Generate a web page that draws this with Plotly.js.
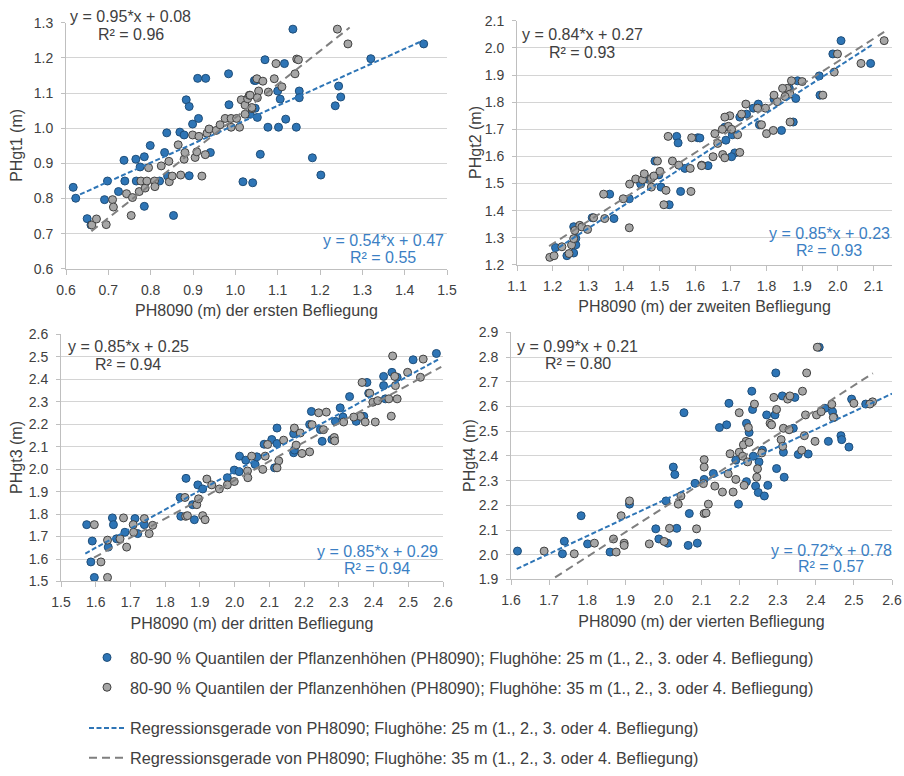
<!DOCTYPE html>
<html>
<head>
<meta charset="utf-8">
<script src="https://cdn.plot.ly/plotly-3.0.1.min.js"></script>
<style>html,body{margin:0;padding:0;background:#fff;}#chart{width:904px;height:776px;}</style>
</head>
<body>
<div id="chart"></div>
<script>
// ---------- Data ----------
// Panel 1: erste Befliegung
const p1x25 = [0.617,0.623,0.650,0.659,0.691,0.698,0.724,0.737,0.739,0.765,0.766,0.775,0.785,0.785,0.799,0.821,0.833,0.838,0.840,0.854,0.869,0.879,0.884,0.891,0.891,0.899,0.911,0.930,0.913,0.941,0.984,0.985,1.018,1.041,1.045,
  1.136,1.070,1.116,1.048,1.100,1.106,1.151,1.151,1.047,1.035,1.052,1.077,1.102,1.119,1.144,1.059,1.182,1.202,1.236,1.244,1.249,1.320,1.445];
const p1y25 = [0.832,0.801,0.743,0.725,0.797,0.850,0.820,0.909,0.850,0.912,0.850,0.890,0.778,0.919,0.951,0.850,0.931,0.987,0.864,0.752,0.989,0.981,1.081,1.062,0.865,1.012,1.142,1.142,1.028,0.931,1.155,1.067,0.848,0.845,1.136,
  1.282,1.195,1.184,1.136,1.106,1.083,1.106,1.087,1.057,1.040,1.031,1.003,1.003,1.026,1.003,0.926,0.916,0.867,1.064,1.120,1.089,1.198,1.240];
const p1x35 = [0.661,0.672,0.695,0.710,0.712,0.743,0.757,0.754,0.773,0.787,0.795,0.777,0.791,0.809,0.810,0.825,0.843,0.844,0.851,0.865,0.871,0.879,0.881,0.899,0.905,0.909,0.914,0.921,0.929,0.933,0.938,0.955,0.964,0.976,0.990,0.990,1.003,1.010,1.014,1.023,1.029,1.033,1.023,1.039,
  1.241,1.266,1.145,1.149,1.096,1.141,1.051,1.065,1.092,1.110,1.055,1.078,1.035,1.052,1.039];
const p1y35 = [0.725,0.742,0.726,0.797,0.776,0.814,0.803,0.752,0.820,0.830,0.888,0.850,0.850,0.850,0.834,0.893,0.906,0.848,0.864,0.953,0.867,0.912,0.931,0.981,0.917,0.933,0.977,0.864,0.925,0.986,0.998,0.994,1.010,1.028,1.028,1.003,1.028,1.003,1.081,1.066,1.084,1.094,1.040,1.056,
  1.282,1.240,1.197,1.195,1.184,1.155,1.141,1.134,1.141,1.118,1.106,1.103,1.094,1.087,1.059];

// Panel 2: zweite Befliegung
const p2x25 = [1.208,1.240,1.259,1.265,1.265,1.259,1.311,1.360,1.372,1.415,1.447,1.468,1.487,1.498,1.504,1.527,1.548,1.552,1.559,1.571,1.607,
  2.009,2.092,1.986,1.950,1.948,1.887,1.864,1.882,1.875,1.842,1.821,1.777,1.763,1.780,1.744,1.725,1.683,1.686,1.704,1.711,1.702,1.636,1.613];
const p2y25 = [1.264,1.234,1.244,1.274,1.298,1.341,1.374,1.461,1.371,1.444,1.498,1.516,1.583,1.532,1.487,1.422,1.674,1.650,1.471,1.556,1.669,
  2.027,1.943,1.978,1.826,1.897,1.879,1.851,1.814,1.727,1.696,1.812,1.793,1.778,1.717,1.756,1.745,1.708,1.660,1.680,1.613,1.599,1.566,1.668];
const p2x35 = [1.192,1.204,1.226,1.246,1.253,1.259,1.262,1.276,1.282,1.298,1.315,1.343,1.346,1.398,1.415,1.416,1.433,1.452,1.457,1.477,1.477,1.484,1.494,1.501,1.512,1.518,1.524,1.536,1.554,1.586,1.588,1.590,1.618,
  2.130,2.065,1.999,1.990,1.958,1.900,1.870,1.866,1.858,1.845,1.866,1.852,1.830,1.821,1.797,1.800,1.819,1.786,1.775,1.742,1.730,1.697,1.683,1.693,1.676,1.655,1.663,1.702,1.719,1.725,1.677,1.683,1.650,1.618];
const p2y35 = [1.228,1.234,1.267,1.242,1.274,1.297,1.327,1.346,1.340,1.331,1.374,1.461,1.371,1.444,1.337,1.498,1.517,1.514,1.536,1.519,1.487,1.528,1.583,1.545,1.422,1.475,1.674,1.583,1.568,1.556,1.471,1.669,1.568,
  2.027,1.943,1.978,1.911,1.826,1.876,1.879,1.727,1.851,1.851,1.830,1.821,1.802,1.826,1.778,1.684,1.696,1.717,1.778,1.793,1.756,1.750,1.745,1.711,1.700,1.684,1.648,1.700,1.680,1.615,1.607,1.595,1.599,1.566];

// Panel 3: dritte Befliegung
const p3x25 = [1.574,1.590,1.586,1.596,1.636,1.648,1.651,1.684,1.713,1.721,1.740,1.660,1.843,1.860,1.845,1.884,1.879,1.894,1.908,1.979,1.999,2.014,2.032,2.013,2.059,
  2.581,2.514,2.453,2.468,2.429,2.429,2.381,2.386,2.434,2.331,2.304,2.312,2.290,2.350,2.372,2.221,2.247,2.252,2.216,2.170,2.170,2.172,2.122,2.085,2.107,2.122,2.115,2.064,2.280];
const p3y25 = [1.753,1.680,1.587,1.518,1.653,1.783,1.753,1.719,1.780,1.713,1.753,1.690,1.874,1.959,1.790,1.775,1.842,1.930,1.912,1.962,1.996,2.058,2.040,1.989,2.021,
  2.515,2.487,2.431,2.409,2.413,2.372,2.386,2.338,2.313,2.323,2.273,2.232,2.213,2.213,2.235,2.257,2.176,2.124,2.199,2.158,2.073,2.085,2.183,2.111,2.132,2.114,2.006,2.055,2.132];
const p3x35 = [1.596,1.615,1.634,1.634,1.670,1.689,1.680,1.708,1.709,1.740,1.754,1.764,1.857,1.859,1.864,1.891,1.896,1.908,1.915,1.920,1.934,1.956,1.979,1.999,2.037,2.038,2.049,
  2.455,2.543,2.498,2.535,2.461,2.463,2.444,2.468,2.367,2.389,2.398,2.412,2.451,2.362,2.343,2.314,2.376,2.405,2.242,2.264,2.223,2.256,2.287,2.288,2.172,2.189,2.177,2.194,2.216,2.141,2.095,2.127,2.122,2.088,2.081];
const p3y35 = [1.753,1.587,1.518,1.684,1.690,1.653,1.783,1.753,1.719,1.780,1.713,1.750,1.874,1.790,1.793,1.842,1.868,1.793,1.775,1.956,1.930,1.912,1.930,1.945,1.992,1.962,2.058,
  2.504,2.490,2.431,2.409,2.413,2.372,2.313,2.313,2.386,2.338,2.298,2.305,2.236,2.235,2.232,2.210,2.210,2.210,2.251,2.254,2.198,2.176,2.141,2.126,2.183,2.161,2.107,2.070,2.077,2.129,2.110,2.037,2.006,2.058,1.999];

// Panel 4: vierte Befliegung
const p4x25 = [1.617,1.735,1.740,1.784,1.801,1.860,1.911,1.980,1.988,2.011,2.007,2.026,2.030,2.035,2.054,2.065,2.068,2.083,2.089,2.107,
  2.409,2.295,2.232,2.172,2.234,2.147,2.166,2.218,2.225,2.271,2.293,2.312,2.345,2.341,2.315,2.297,2.317,2.260,2.251,2.236,2.190,2.218,2.242,2.249,2.265,2.274,2.197,2.131,2.354,2.380,2.433,2.444,2.448,2.466,2.468,2.487,2.494,2.531,2.424];
const p4y25 = [2.015,2.004,2.055,2.158,2.044,2.011,2.205,2.105,2.064,2.047,2.218,2.355,2.325,2.107,2.575,2.038,2.167,2.289,2.047,2.305,
  2.840,2.736,2.662,2.613,2.588,2.515,2.526,2.532,2.495,2.566,2.566,2.643,2.637,2.512,2.415,2.349,2.314,2.423,2.376,2.399,2.383,2.296,2.278,2.252,2.238,2.281,2.205,2.329,2.406,2.408,2.459,2.579,2.556,2.482,2.466,2.436,2.630,2.610,2.593];
const p4x35 = [1.687,1.766,1.819,1.869,1.876,1.889,1.897,1.897,1.911,1.963,2.002,2.016,2.039,2.046,2.087,2.107,2.107,2.107,2.105,
  2.404,2.376,2.365,2.290,2.326,2.332,2.297,2.239,2.199,2.223,2.280,2.284,2.315,2.330,2.373,2.402,2.414,2.442,2.446,2.500,2.549,2.542,2.370,2.398,2.309,2.313,2.363,2.217,2.210,2.225,2.199,2.175,2.208,2.221,2.247,2.245,2.258,2.190,2.212,2.135,2.155,2.183,2.170,2.118,2.112];
const p4y35 = [2.015,2.004,2.047,2.064,2.011,2.158,2.047,2.038,2.218,2.044,2.054,2.107,2.205,2.238,2.105,2.167,2.385,2.355,2.288,
  2.840,2.736,2.662,2.637,2.630,2.643,2.588,2.610,2.575,2.515,2.532,2.526,2.512,2.506,2.566,2.566,2.579,2.609,2.556,2.613,2.619,2.610,2.482,2.459,2.466,2.439,2.423,2.459,2.445,2.455,2.415,2.409,2.399,2.376,2.348,2.314,2.412,2.305,2.281,2.278,2.254,2.254,2.328,2.205,2.169];

// Regression lines: [slope, intercept] and x extent of each line
const reg25 = [[0.54,0.47],[0.85,0.23],[0.85,0.29],[0.72,0.78]];
const reg35 = [[0.95,0.08],[0.84,0.27],[0.85,0.25],[0.99,0.21]];
const r2_25 = [0.55,0.93,0.94,0.57];
const r2_35 = [0.96,0.93,0.94,0.80];
const line25X = [[0.617,1.445],[1.20,2.10],[1.570,2.588],[1.615,2.60]];
const line35X = [[0.660,1.270],[1.190,2.130],[1.595,2.595],[1.687,2.550]];

// Axis texts and ranges
const xTitles = ['PH8090 (m) der ersten Befliegung','PH8090 (m) der zweiten Befliegung','PH8090 (m) der dritten Befliegung','PH8090 (m) der vierten Befliegung'];
const yTitles = ['PHgt1 (m)','PHgt2 (m)','PHgt3 (m)','PHgt4 (m)'];
const xRanges = [[0.6,1.5],[1.1,2.152],[1.5,2.6],[1.6,2.6]];
const yRanges = [[0.6,1.3],[1.2,2.1],[1.5,2.6],[1.9,2.9]];
const legendNames = [
  '80-90 % Quantilen der Pflanzenhöhen (PH8090); Flughöhe: 25 m (1., 2., 3. oder 4. Befliegung)',
  '80-90 % Quantilen der Pflanzenhöhen (PH8090); Flughöhe: 35 m (1., 2., 3. oder 4. Befliegung)',
  'Regressionsgerade von PH8090; Flughöhe: 25 m (1., 2., 3. oder 4. Befliegung)',
  'Regressionsgerade von PH8090; Flughöhe: 35 m (1., 2., 3. oder 4. Befliegung)'
];

// ---------- Styling / layout ----------
const W = 904, H = 776;
const FONT = 'Liberation Sans, Arial, sans-serif';
const TXT = '#404040';
const BLUE = '#2e75b6', BLUE_EDGE = '#1f4e79';
const GREY = '#a6a6a6', GREY_EDGE = '#404040';
const BLUE_TXT = '#3b7fc4', GREY_LINE = '#7f7f7f';
const AXC = '#bfbfbf', GRIDC = '#d4d4d4';

// plot areas in pixels [left, right, top, bottom]
const boxes = [[66,447,23,271],[517,892,21,267],[61,443,337,586],[511,892,335,584]];
// y-title centre x (pixels)
const yTitleX = [17, 476, 17, 470];

const allX25 = [p1x25,p2x25,p3x25,p4x25], allY25 = [p1y25,p2y25,p3y25,p4y25];
const allX35 = [p1x35,p2x35,p3x35,p4x35], allY35 = [p1y35,p2y35,p3y35,p4y35];

const traces = [];
const layout = {
  width: W, height: H,
  margin: {l:0,r:0,t:0,b:0},
  paper_bgcolor: '#fff', plot_bgcolor: '#fff',
  font: {family: FONT, color: TXT, size: 14},
  showlegend: true,
  annotations: []
};

for (let i = 0; i < 4; i++) {
  const s = i === 0 ? '' : String(i+1);
  const xa = 'x'+s, ya = 'y'+s;
  const b = boxes[i];
  layout['xaxis'+s] = {
    domain: [b[0]/W, b[1]/W], range: xRanges[i], anchor: ya,
    tick0: xRanges[i][0], dtick: 0.1, tickformat: '.1f',
    showgrid: false, zeroline: false, showline: true, linecolor: AXC, linewidth: 1,
    ticks: 'outside', ticklen: 5, tickcolor: AXC, ticklabelstandoff: 3,
    tickfont: {family: FONT, size: 14, color: TXT},
    title: {text: xTitles[i], font: {family: FONT, size: 16, color: TXT}, standoff: 8},
    fixedrange: true
  };
  layout['yaxis'+s] = {
    domain: [1-b[3]/H, 1-b[2]/H], range: yRanges[i], anchor: xa,
    tick0: yRanges[i][0], dtick: 0.1, tickformat: '.1f',
    showgrid: true, gridcolor: GRIDC, gridwidth: 1, zeroline: false,
    showline: true, linecolor: AXC, linewidth: 1,
    ticks: 'outside', ticklen: 4, tickcolor: AXC, ticklabelstandoff: 5,
    tickfont: {family: FONT, size: 14, color: TXT},
    fixedrange: true
  };
  // y-axis title placed beside the tick labels
  layout.annotations.push({
    text: yTitles[i], xref: 'paper', yref: 'paper',
    x: yTitleX[i]/W, y: 1-((b[2]+b[3])/2)/H, xanchor: 'center', yanchor: 'middle',
    textangle: -90, showarrow: false, font: {family: FONT, size: 16, color: TXT}
  });

  traces.push({
    type: 'scatter', mode: 'markers', x: allX25[i], y: allY25[i], xaxis: xa, yaxis: ya,
    name: legendNames[0], legend: 'legend', showlegend: i === 0, legendgroup: 'b25',
    marker: {size: 8, color: BLUE, line: {color: BLUE_EDGE, width: 1}},
    hoverinfo: 'x+y'
  });
  traces.push({
    type: 'scatter', mode: 'markers', x: allX35[i], y: allY35[i], xaxis: xa, yaxis: ya,
    name: legendNames[1], legend: 'legend2', showlegend: i === 0, legendgroup: 'g35',
    marker: {size: 8, color: GREY, line: {color: GREY_EDGE, width: 1}},
    hoverinfo: 'x+y'
  });
  const lx25 = line25X[i], lx35 = line35X[i];
  traces.push({
    type: 'scatter', mode: 'lines', x: lx25, y: lx25.map(v => reg25[i][0]*v + reg25[i][1]),
    xaxis: xa, yaxis: ya, name: legendNames[2], legend: 'legend3', showlegend: i === 0, legendgroup: 'l25',
    line: {color: BLUE, width: 2, dash: '5px,2.5px'}, hoverinfo: 'skip'
  });
  traces.push({
    type: 'scatter', mode: 'lines', x: lx35, y: lx35.map(v => reg35[i][0]*v + reg35[i][1]),
    xaxis: xa, yaxis: ya, name: legendNames[3], legend: 'legend4', showlegend: i === 0, legendgroup: 'l35',
    line: {color: GREY_LINE, width: 2, dash: '8px,5px'}, hoverinfo: 'skip'
  });
}

// regression labels (pixel positions of the two-line text boxes)
const grayLbl = [[130.7,17,35],[582,34.3,52.7],[128,349.3,367.7],[577.5,349,366.7]];
const blueLbl = [[383,242.3,259.3],[829,235.7,252.7],[377,556,572.7],[831,554.3,571]];
function eq(c){ return 'y = ' + c[0].toFixed(2) + '*x + ' + c[1].toFixed(2); }
for (let i = 0; i < 4; i++) {
  const g = grayLbl[i], bl = blueLbl[i];
  const mk = (txt, px, py, col) => ({
    text: txt, xref: 'paper', yref: 'paper', x: px/W, y: 1-py/H,
    xanchor: 'center', yanchor: 'middle', showarrow: false,
    font: {family: FONT, size: 16, color: col}
  });
  layout.annotations.push(mk(eq(reg35[i]), g[0], g[1], TXT));
  layout.annotations.push(mk('R² = ' + r2_35[i].toFixed(2), g[0], g[2], TXT));
  layout.annotations.push(mk(eq(reg25[i]), bl[0], bl[1], BLUE_TXT));
  layout.annotations.push(mk('R² = ' + r2_25[i].toFixed(2), bl[0], bl[2], BLUE_TXT));
}

// four single-entry legends, stacked below the panels
const legRows = [663, 693, 734, 764];
['legend','legend2','legend3','legend4'].forEach((k, j) => {
  layout[k] = {
    x: 84/W, y: 1-legRows[j]/H, xanchor: 'left', yanchor: 'middle',
    orientation: 'v', bgcolor: 'rgba(0,0,0,0)', borderwidth: 0, itemwidth: 36,
    font: {family: FONT, size: 16.3, color: TXT}, itemclick: false, itemdoubleclick: false
  };
});

Plotly.newPlot('chart', traces, layout, {displayModeBar: false, staticPlot: true});
</script>
</body>
</html>
